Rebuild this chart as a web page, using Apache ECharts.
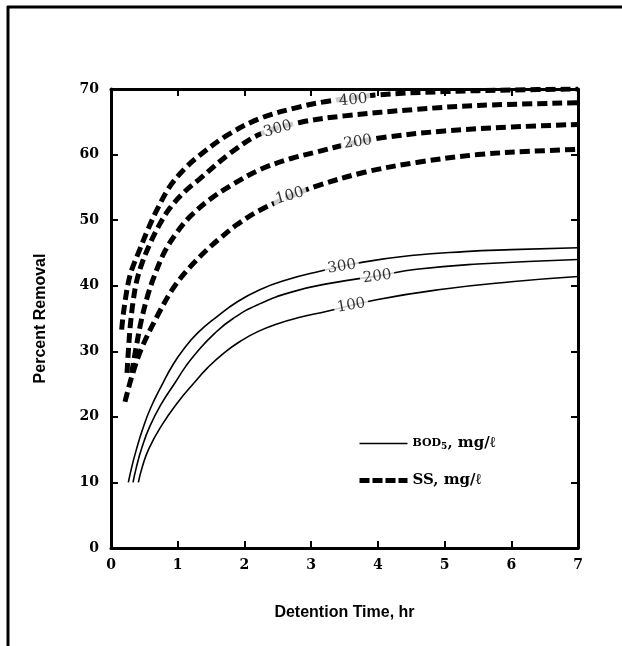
<!DOCTYPE html>
<html>
<head>
<meta charset="utf-8">
<script src="https://cdn.jsdelivr.net/npm/echarts@6/dist/echarts.min.js"></script>
<style>
html,body{margin:0;padding:0;background:#fff;}
#c{width:622px;height:646px;}
</style>
</head>
<body>
<div id="c"></div>
<script>
// ---- data ----
const xTicks = [0, 1, 2, 3, 4, 5, 6, 7];
const yTicks = [0, 10, 20, 30, 40, 50, 60, 70];

const ss400 = [[0.16,33.3],[0.18,35.3],[0.22,38.2],[0.26,40.5],[0.31,42.4],[0.43,45.5],[0.55,48.5],[0.69,51.6],[0.88,55.1],[1.1,57.8],[1.33,59.9],[1.75,63],[2.23,65.5],[2.8,67.2],[3.23,68.1],[4,69.1],[5,69.6],[6,69.85],[7,70]];
const ss300 = [[0.24,26.7],[0.26,30],[0.29,34],[0.33,37.5],[0.38,40.5],[0.46,43.3],[0.58,46.3],[0.72,49.2],[0.88,51.8],[1.1,54.3],[1.33,56.3],[1.8,60.3],[2.23,63.1],[2.83,64.9],[3.5,65.9],[4.58,66.9],[5.5,67.5],[7,67.9]];
const ss200 = [[0.31,26.7],[0.37,30.2],[0.45,34.5],[0.55,38.5],[0.65,41.5],[0.81,45.3],[1.0,48.3],[1.2,50.7],[1.5,53.3],[1.8,55.3],[2.23,57.7],[2.7,59.4],[3.08,60.4],[3.6,61.7],[4.08,62.6],[5,63.6],[6,64.2],[7,64.6]];
const ss100 = [[0.21,22.3],[0.31,26.1],[0.46,30.5],[0.69,35.3],[0.93,39.6],[1.18,42.8],[1.43,45.4],[1.63,47.2],[1.9,49.4],[2.23,51.5],[2.7,53.7],[3.08,55.2],[3.8,57.3],[4.58,58.8],[5.5,60],[6.3,60.5],[7,60.8]];

const bod300 = [[0.26,10],[0.31,12.3],[0.38,15],[0.47,18],[0.6,21.5],[0.78,25.2],[0.92,27.8],[1.08,30.2],[1.3,32.8],[1.59,35.3],[1.9,37.6],[2.23,39.4],[2.6,40.8],[3.13,42.2],[3.78,43.6],[4.5,44.6],[5.3,45.2],[6,45.5],[7,45.8]];
const bod200 = [[0.33,10],[0.38,12.3],[0.46,15.2],[0.58,18.5],[0.75,21.9],[0.96,25.2],[1.12,27.7],[1.29,29.9],[1.55,32.7],[1.83,35.0],[2.2,37.1],[2.73,39.1],[3.3,40.4],[4.0,41.5],[4.58,42.5],[5.5,43.3],[7,44]];
const bod100 = [[0.41,10],[0.47,12.4],[0.57,15.2],[0.76,18.7],[1.0,22.2],[1.23,25.0],[1.45,27.5],[1.7,29.8],[1.95,31.6],[2.2,33.0],[2.5,34.2],[2.8,35.1],[3.24,36.1],[4,37.9],[5,39.5],[6,40.6],[7,41.4]];

// curve labels: text, x, y
const curveLabels = [
  ['400', 3.63, 68.3],
  ['300', 2.5, 63.9],
  ['200', 3.7, 61.9],
  ['100', 2.68, 53.7],
  ['300', 3.46, 42.9],
  ['200', 3.99, 41.4],
  ['100', 3.6, 37.0]
];
const labelRotations = [5, 16, 8, 16, 9, 7, 10];

// ---- chart ----
const chart = echarts.init(document.getElementById('c'), null, {renderer: 'canvas'});
const serif = 'DejaVu Serif';
const sans = 'Liberation Sans';

function ssSeries(d) {
  return {type: 'line', name: 'SS', data: d, smooth: 0.35, symbol: 'none', z: 3,
    itemStyle: {color: '#000'},
    lineStyle: {color: '#000', width: 5, type: [10, 5], cap: 'butt'}};
}
function bodSeries(d) {
  return {type: 'line', name: 'BOD', data: d, smooth: 0.5, symbol: 'none', z: 3,
    itemStyle: {color: '#000'},
    lineStyle: {color: '#000', width: 1.6, type: 'solid'}};
}

const axisCommon = {
  type: 'value',
  splitLine: {show: false},
  axisLine: {show: true, onZero: false, lineStyle: {color: '#000', width: 3}},
  axisTick: {show: true, inside: true, length: 7, lineStyle: {color: '#000', width: 2}}
};

const option = {
  backgroundColor: '#fff',
  animation: false,
  grid: {left: 111, right: 44, top: 89, bottom: 98},
  xAxis: [
    Object.assign({}, axisCommon, {
      min: 0, max: 7, interval: 1, position: 'bottom',
      axisLabel: {color: '#000', fontFamily: serif, fontSize: 14, fontWeight: 'bold', margin: 10,
        formatter: v => xTicks.includes(v) ? String(v) : ''},
      name: 'Detention Time, hr', nameLocation: 'middle', nameGap: 57,
      nameTextStyle: {color: '#000', fontFamily: sans, fontWeight: 'bold', fontSize: 16}
    }),
    Object.assign({}, axisCommon, {
      min: 0, max: 7, interval: 1, position: 'top', axisLabel: {show: false}
    })
  ],
  yAxis: [
    Object.assign({}, axisCommon, {
      min: 0, max: 70, interval: 10, position: 'left',
      axisLabel: {color: '#000', fontFamily: serif, fontSize: 14, fontWeight: 'bold', margin: 12,
        formatter: v => yTicks.includes(v) ? String(v) : ''},
      name: 'Percent Removal', nameLocation: 'middle', nameGap: 62,
      nameTextStyle: {color: '#000', fontFamily: sans, fontWeight: 'bold', fontSize: 16}
    }),
    Object.assign({}, axisCommon, {
      min: 0, max: 70, interval: 10, position: 'right', axisLabel: {show: false}
    })
  ],
  legend: {
    data: [
      {name: 'BOD', itemStyle: {opacity: 0}, lineStyle: {color: '#000', width: 1.6, type: 'solid'}},
      {name: 'SS', itemStyle: {opacity: 0}, lineStyle: {color: '#000', width: 5, type: [10, 3], cap: 'butt'}}
    ],
    orient: 'vertical',
    left: 357, top: 436, padding: 0,
    itemWidth: 48, itemHeight: 14, itemGap: 22,
    formatter: n => n === 'BOD' ? '{sc|BOD}{sub|5}{t|, mg/ℓ}' : '{t|SS, mg/ℓ}',
    textStyle: {
      color: '#000',
      rich: {
        sc: {fontFamily: serif, fontSize: 11, color: '#000', fontWeight: 'bold'},
        sub: {fontFamily: serif, fontSize: 9, color: '#000', verticalAlign: 'bottom', padding: [6, 0, 0, 0], fontWeight: 'bold'},
        t: {fontFamily: serif, fontSize: 15, color: '#000', fontWeight: 'bold'}
      }
    }
  },
  graphic: [
    {type: 'line', shape: {x1: 7, y1: 7, x2: 622, y2: 7}, style: {stroke: '#000', lineWidth: 3}},
    {type: 'line', shape: {x1: 8, y1: 6, x2: 8, y2: 646}, style: {stroke: '#000', lineWidth: 3}}
  ],
  series: [
    ssSeries(ss400), ssSeries(ss300), ssSeries(ss200), ssSeries(ss100),
    bodSeries(bod300), bodSeries(bod200), bodSeries(bod100),
    {
      type: 'scatter', name: 'labels', symbolSize: 0, z: 10,
      data: curveLabels.map((l, i) => ({
        value: [l[1], l[2]],
        label: {show: true, position: 'inside', formatter: l[0], rotate: labelRotations[i],
          fontFamily: serif, fontSize: 15, color: '#000',
          backgroundColor: '#fff', padding: [0, 3]}
      }))
    }
  ]
};
chart.setOption(option);
</script>
</body>
</html>
